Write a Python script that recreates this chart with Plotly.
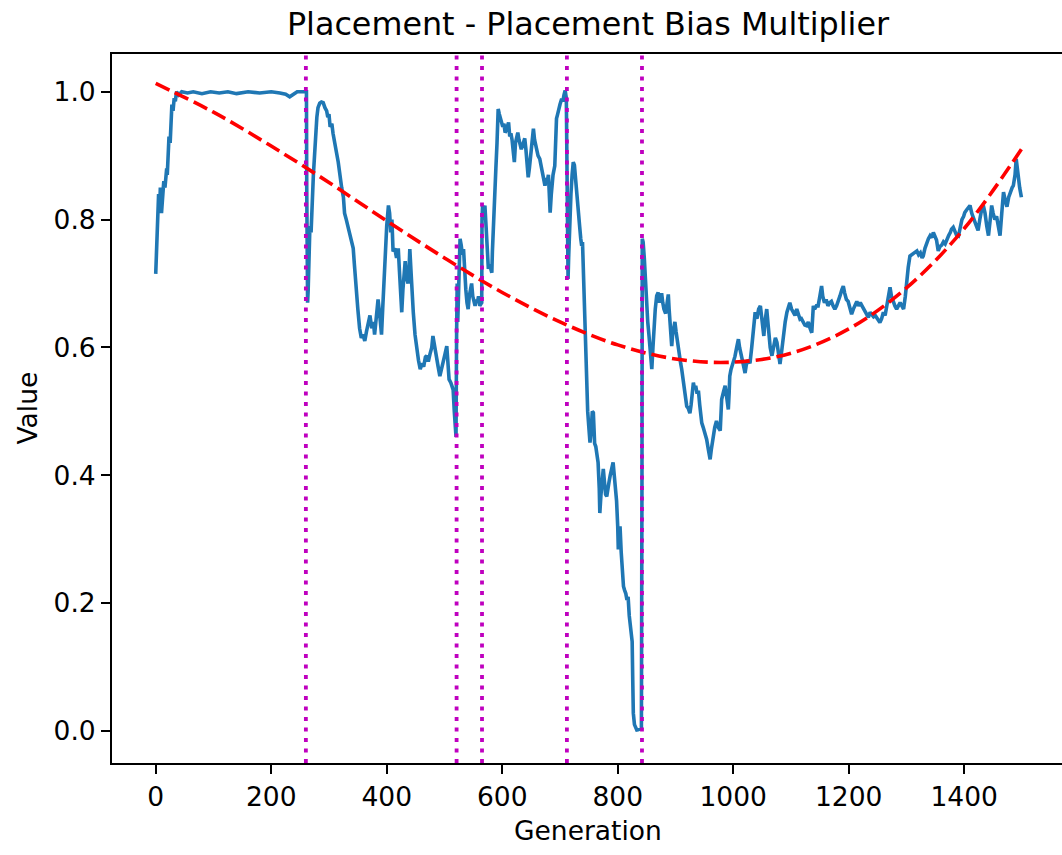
import plotly.graph_objects as go

# Placement bias multiplier per generation
generation = [
    0, 2, 3, 4, 5, 7, 8, 10, 11, 13, 14, 16, 17, 19, 20, 22, 23, 25, 26, 28, 30, 32, 34, 36,
    40, 45, 55, 65, 80, 95, 110, 125, 140, 160, 180, 200, 215, 225, 232, 238, 245, 255, 260,
    261, 261.5, 262, 263, 264, 265, 266, 267, 269, 271, 273, 275, 277, 279, 281, 284, 287, 290,
    293, 296, 298, 300, 302, 305, 307, 310, 313, 316, 319, 322, 325, 327, 330, 333, 336, 339,
    342, 344, 346, 348, 350, 353, 356, 359, 362, 365, 368, 371, 374, 377, 379, 382, 385, 388,
    391, 393, 395, 397, 400, 403, 405, 407, 409, 411, 414, 417, 420, 422, 424, 426, 428, 430,
    432, 434, 437, 439, 440, 442, 444, 446, 449, 452, 455, 458, 461, 464, 467, 469, 472, 475,
    478, 480, 483, 486, 489, 492, 495, 498, 501, 504, 506, 508, 511, 513, 515, 517, 519, 520,
    521, 522, 523, 524, 526, 527, 529, 531, 533, 535, 537, 539, 541, 543, 545, 547, 549, 551,
    553, 555, 557, 559, 561, 563, 564.5,
    565, 566, 568, 570, 572, 573, 575, 576, 578, 580, 582, 583, 585, 587, 589, 591, 593, 595,
    597, 599, 601, 603, 605, 607, 609, 611, 613, 615, 617, 619, 621, 623, 625, 627, 629, 631,
    633, 635, 637, 639, 641, 643, 645, 647, 649, 651, 653, 654, 656, 658, 660, 662, 665, 667,
    669, 671, 674, 676, 678, 680, 682, 683, 685, 686, 688, 691, 692, 694, 696, 698, 700, 703,
    705, 707, 709, 711,
    712, 713, 714, 715, 716, 717, 719, 721, 723, 725, 727, 729, 732, 734, 736, 737.6, 739, 741,
    743, 744, 746, 748, 750, 752, 754, 756, 757.8, 759, 760, 762, 764, 766, 768, 769, 771, 773,
    775, 777, 779, 781, 783, 785, 787, 790, 792, 794, 796, 798, 800, 801, 803, 804, 806, 808,
    810, 812, 814, 816, 818, 820, 821, 823, 825, 826, 827, 829, 831, 833, 835, 837, 839, 841,
    842, 842.5, 844, 846, 848, 850, 852, 854, 856, 858, 859, 861, 863, 865, 867.5, 870, 872,
    874, 876, 878, 880, 883, 885, 887.6, 889, 891, 893.5, 895, 897, 899, 901, 903, 905, 907,
    909, 910.8, 913, 915, 917, 919.5, 922, 925, 927, 929, 931, 933, 935, 937, 940, 942, 944,
    945.5, 948, 951, 954, 957, 960, 962, 964, 965.6, 968, 971, 974, 977.5, 979, 980, 983, 986,
    989, 991.5, 993, 994, 996, 998, 1001, 1003, 1006, 1009, 1011, 1014.5, 1017, 1020.5, 1023,
    1026, 1029, 1032, 1035, 1038, 1041, 1044, 1047, 1050, 1053, 1055, 1058, 1061, 1064, 1067,
    1070, 1073, 1075.7, 1078, 1081, 1084, 1087, 1090, 1093, 1096, 1098, 1101, 1104, 1107, 1110,
    1113, 1115.7, 1118, 1121, 1124, 1127, 1130, 1133, 1136, 1138.7, 1141, 1144, 1147, 1150,
    1153, 1155, 1158, 1161, 1164, 1167, 1170, 1173, 1176, 1179, 1182, 1185, 1188, 1190.6, 1193,
    1196, 1199, 1202, 1205, 1208, 1211, 1214, 1217, 1220, 1223, 1226, 1229, 1231, 1234, 1237,
    1240, 1243, 1246, 1249, 1252, 1254, 1257, 1260, 1263, 1266, 1269, 1271.5, 1274, 1277, 1280,
    1283, 1286, 1289, 1292, 1295, 1298, 1300.5, 1303, 1306, 1309, 1312, 1315, 1318, 1321, 1324,
    1327, 1329, 1332, 1335, 1338, 1341, 1344, 1346.5, 1349, 1352, 1355, 1358, 1361, 1364, 1367,
    1370, 1373, 1376, 1378, 1381, 1384, 1387, 1390, 1393, 1396, 1399, 1401, 1404, 1407, 1410,
    1413, 1416, 1418.6, 1421, 1424, 1427, 1430, 1433, 1436, 1439, 1442, 1445, 1447.5, 1450,
    1453, 1456, 1459, 1462, 1465, 1468, 1471, 1474, 1477, 1480, 1483, 1485, 1488, 1490, 1492,
    1494, 1496, 1499,
]

bias_value = [
    0.715, 0.76, 0.80, 0.79, 0.84, 0.82, 0.85, 0.81, 0.83, 0.84, 0.86, 0.85, 0.87, 0.88, 0.87,
    0.90, 0.93, 0.92, 0.95, 0.98, 0.97, 0.99, 0.985, 1.0,
    0.995, 1.0, 0.998, 1.0, 0.997, 1.0, 0.998, 1.0, 0.997, 1.0, 0.998, 1.0, 0.998, 0.996, 0.992,
    0.996, 1.0, 1.0, 1.0,
    1.0, 0.85, 0.70, 0.67, 0.69, 0.75, 0.72, 0.79, 0.78, 0.84, 0.87, 0.90, 0.94, 0.96, 0.975,
    0.982, 0.984, 0.983, 0.975, 0.97, 0.96, 0.965, 0.945, 0.95, 0.935, 0.915, 0.905, 0.89,
    0.865, 0.85, 0.835, 0.81, 0.80, 0.79, 0.775, 0.77, 0.755, 0.73, 0.70, 0.67, 0.66, 0.63,
    0.615, 0.62, 0.61, 0.625, 0.635, 0.65, 0.63, 0.64, 0.62, 0.645, 0.675, 0.65, 0.62, 0.66,
    0.70, 0.75, 0.79, 0.822, 0.81, 0.78, 0.80, 0.75, 0.755, 0.74, 0.755, 0.72, 0.68, 0.655,
    0.69, 0.72, 0.735, 0.71, 0.70, 0.73, 0.754, 0.72, 0.68, 0.655, 0.62, 0.597, 0.58, 0.566,
    0.575, 0.57, 0.585, 0.587, 0.578, 0.59, 0.60, 0.618, 0.60, 0.581, 0.57, 0.555, 0.565,
    0.575, 0.59, 0.602, 0.57, 0.55, 0.545, 0.54, 0.534, 0.50, 0.467, 0.46,
    0.62, 0.70, 0.64, 0.69, 0.74, 0.77, 0.76, 0.745, 0.754, 0.712, 0.69, 0.67, 0.66, 0.68,
    0.69, 0.70, 0.68, 0.67, 0.665, 0.675, 0.67, 0.68, 0.665, 0.668, 0.67,
    0.80, 0.822, 0.80, 0.822, 0.79, 0.775, 0.74, 0.723, 0.73, 0.72, 0.717, 0.75, 0.785, 0.84,
    0.88, 0.92, 0.973, 0.965, 0.958, 0.952, 0.945, 0.95, 0.936, 0.94, 0.945, 0.952, 0.93,
    0.935, 0.925, 0.91, 0.89, 0.92, 0.93, 0.936, 0.925, 0.915, 0.91, 0.915, 0.92, 0.927,
    0.91, 0.88, 0.866, 0.88, 0.90, 0.915, 0.935, 0.942, 0.925, 0.915, 0.911, 0.90, 0.895,
    0.885, 0.88, 0.87, 0.853, 0.865, 0.86, 0.87, 0.84, 0.811, 0.84, 0.86, 0.87, 0.884, 0.92,
    0.958, 0.965, 0.975, 0.98, 0.989, 0.985, 0.995, 1.002, 0.99,
    0.85, 0.71, 0.707, 0.74, 0.78, 0.806, 0.84, 0.87, 0.89, 0.885, 0.86, 0.84, 0.817, 0.79,
    0.77, 0.759, 0.765, 0.70, 0.62, 0.58, 0.524, 0.50, 0.475, 0.451, 0.47, 0.50, 0.498, 0.47,
    0.45, 0.445, 0.43, 0.42, 0.38, 0.341, 0.37, 0.40, 0.41, 0.39, 0.37, 0.367, 0.385, 0.39,
    0.40, 0.41, 0.42, 0.40, 0.38, 0.36, 0.32, 0.284, 0.31, 0.32, 0.28, 0.25, 0.226, 0.22,
    0.215, 0.205, 0.21, 0.18, 0.169, 0.155, 0.14, 0.08, 0.028, 0.01, 0.003, 0.0016, 0.002,
    0.003, 0.004, 0.004,
    0.40, 0.77, 0.765, 0.74, 0.70, 0.67, 0.64, 0.62, 0.60, 0.58, 0.566, 0.60, 0.64, 0.66,
    0.681, 0.686, 0.67, 0.68, 0.685, 0.67, 0.66, 0.653, 0.67, 0.683, 0.66, 0.63, 0.602, 0.62,
    0.635, 0.64, 0.625, 0.61, 0.60, 0.59, 0.575, 0.566, 0.55, 0.535, 0.52, 0.508, 0.505,
    0.497, 0.51, 0.53, 0.545, 0.535, 0.54, 0.53, 0.53, 0.51, 0.49, 0.482, 0.475, 0.465, 0.456,
    0.44, 0.425, 0.44, 0.455, 0.464, 0.475, 0.485, 0.475, 0.47, 0.495, 0.519, 0.53, 0.54,
    0.52, 0.503, 0.53, 0.555, 0.565, 0.57, 0.58, 0.586, 0.60, 0.613, 0.60, 0.581, 0.575, 0.56,
    0.575, 0.58, 0.575, 0.60, 0.63, 0.655, 0.645, 0.66, 0.665, 0.64, 0.618, 0.64, 0.66, 0.63,
    0.60, 0.587, 0.60, 0.615, 0.608, 0.59, 0.574, 0.595, 0.62, 0.64, 0.655, 0.665, 0.67,
    0.66, 0.655, 0.65, 0.66, 0.65, 0.644, 0.645, 0.64, 0.635, 0.634, 0.64, 0.63, 0.623, 0.665,
    0.66, 0.665, 0.665, 0.68, 0.696, 0.68, 0.67, 0.675, 0.665, 0.67, 0.672, 0.665, 0.66,
    0.665, 0.672, 0.681, 0.69, 0.696, 0.685, 0.675, 0.672, 0.66, 0.652, 0.66, 0.668, 0.672,
    0.665, 0.67, 0.665, 0.66, 0.655, 0.65, 0.647, 0.655, 0.652, 0.648, 0.65, 0.645, 0.64,
    0.639, 0.645, 0.655, 0.65, 0.665, 0.68, 0.694, 0.68, 0.67, 0.665, 0.66, 0.665, 0.67,
    0.665, 0.66, 0.68, 0.707, 0.725, 0.743, 0.745, 0.748, 0.75, 0.751, 0.745, 0.748, 0.74,
    0.743, 0.755, 0.764, 0.77, 0.775, 0.772, 0.78, 0.775, 0.768, 0.751, 0.758, 0.76, 0.765,
    0.762, 0.77, 0.775, 0.78, 0.785, 0.788, 0.78, 0.775, 0.774, 0.785, 0.80, 0.805, 0.811,
    0.815, 0.818, 0.822, 0.81, 0.80, 0.796, 0.79, 0.783, 0.80, 0.815, 0.822, 0.81, 0.79,
    0.775, 0.80, 0.822, 0.81, 0.80, 0.805, 0.79, 0.775, 0.81, 0.843, 0.83, 0.82, 0.835, 0.845,
    0.85, 0.853, 0.87, 0.895, 0.88, 0.86, 0.85, 0.835,
]

# Smooth trend line through the series
trend_generation = [0, 100, 200, 300, 400, 500, 600, 700, 800, 900, 1000, 1100, 1200, 1300, 1400, 1499]
trend_value = [1.013, 0.968, 0.915, 0.858, 0.798, 0.740, 0.686, 0.640, 0.604, 0.582, 0.577,
               0.591, 0.629, 0.693, 0.786, 0.910]

# Generations where a reset happened
reset_generations = [260, 521, 565, 712, 842]

FONT = "DejaVu Sans"
W, H = 1062, 855
ML, MR, MT, MB = 112, 0, 54, 92

fig = go.Figure()
fig.add_trace(go.Scatter(
    x=generation, y=bias_value, mode="lines",
    line=dict(color="#1f77b4", width=3.6), showlegend=False,
))
fig.add_trace(go.Scatter(
    x=trend_generation, y=trend_value, mode="lines",
    line=dict(color="#ff0000", width=3.6, dash="15px,6px", shape="spline"), showlegend=False,
))

for g in reset_generations:
    fig.add_shape(
        type="line", xref="x", yref="paper", x0=g, x1=g, y0=0, y1=1,
        line=dict(color="#bf00bf", width=3.8, dash="4px,6.5px"), layer="above",
    )

plot_w = W - ML - MR
plot_h = H - MT - MB

fig.update_layout(
    width=W, height=H,
    margin=dict(l=ML, r=MR, t=MT, b=MB, pad=0),
    paper_bgcolor="white", plot_bgcolor="white",
    font=dict(family=FONT, color="black", size=26.5),
    title=dict(
        text="Placement - Placement Bias Multiplier",
        font=dict(family=FONT, size=31.8, color="black"),
        xref="paper", x=(588 - ML) / plot_w, xanchor="center",
        yref="container", y=1 - 24 / H, yanchor="middle",
    ),
    xaxis=dict(
        range=[-75.7, 1569.3], tick0=0, dtick=200,
        showgrid=False, zeroline=False,
        showline=True, linecolor="black", linewidth=2, mirror=True,
        ticks="outside", ticklen=9, tickwidth=2, tickcolor="black",
        tickfont=dict(family=FONT, size=26.5, color="black"),
    ),
    yaxis=dict(
        range=[-0.050, 1.059], tick0=0, dtick=0.2, tickformat=".1f",
        showgrid=False, zeroline=False,
        showline=True, linecolor="black", linewidth=2, mirror=False,
        ticks="outside", ticklen=9, tickwidth=2, tickcolor="black",
        tickfont=dict(family=FONT, size=26.5, color="black"),
    ),
    annotations=[
        dict(text="Generation", xref="paper", yref="paper",
             x=(588 - ML) / plot_w, y=-(830 - (H - MB)) / plot_h,
             xanchor="center", yanchor="middle", showarrow=False,
             font=dict(family=FONT, size=26.5, color="black")),
        dict(text="Value", xref="paper", yref="paper",
             x=-(ML - 27) / plot_w, y=0.5, textangle=-90,
             xanchor="center", yanchor="middle", showarrow=False,
             font=dict(family=FONT, size=26.5, color="black")),
    ],
)

fig.write_html("out.html")
